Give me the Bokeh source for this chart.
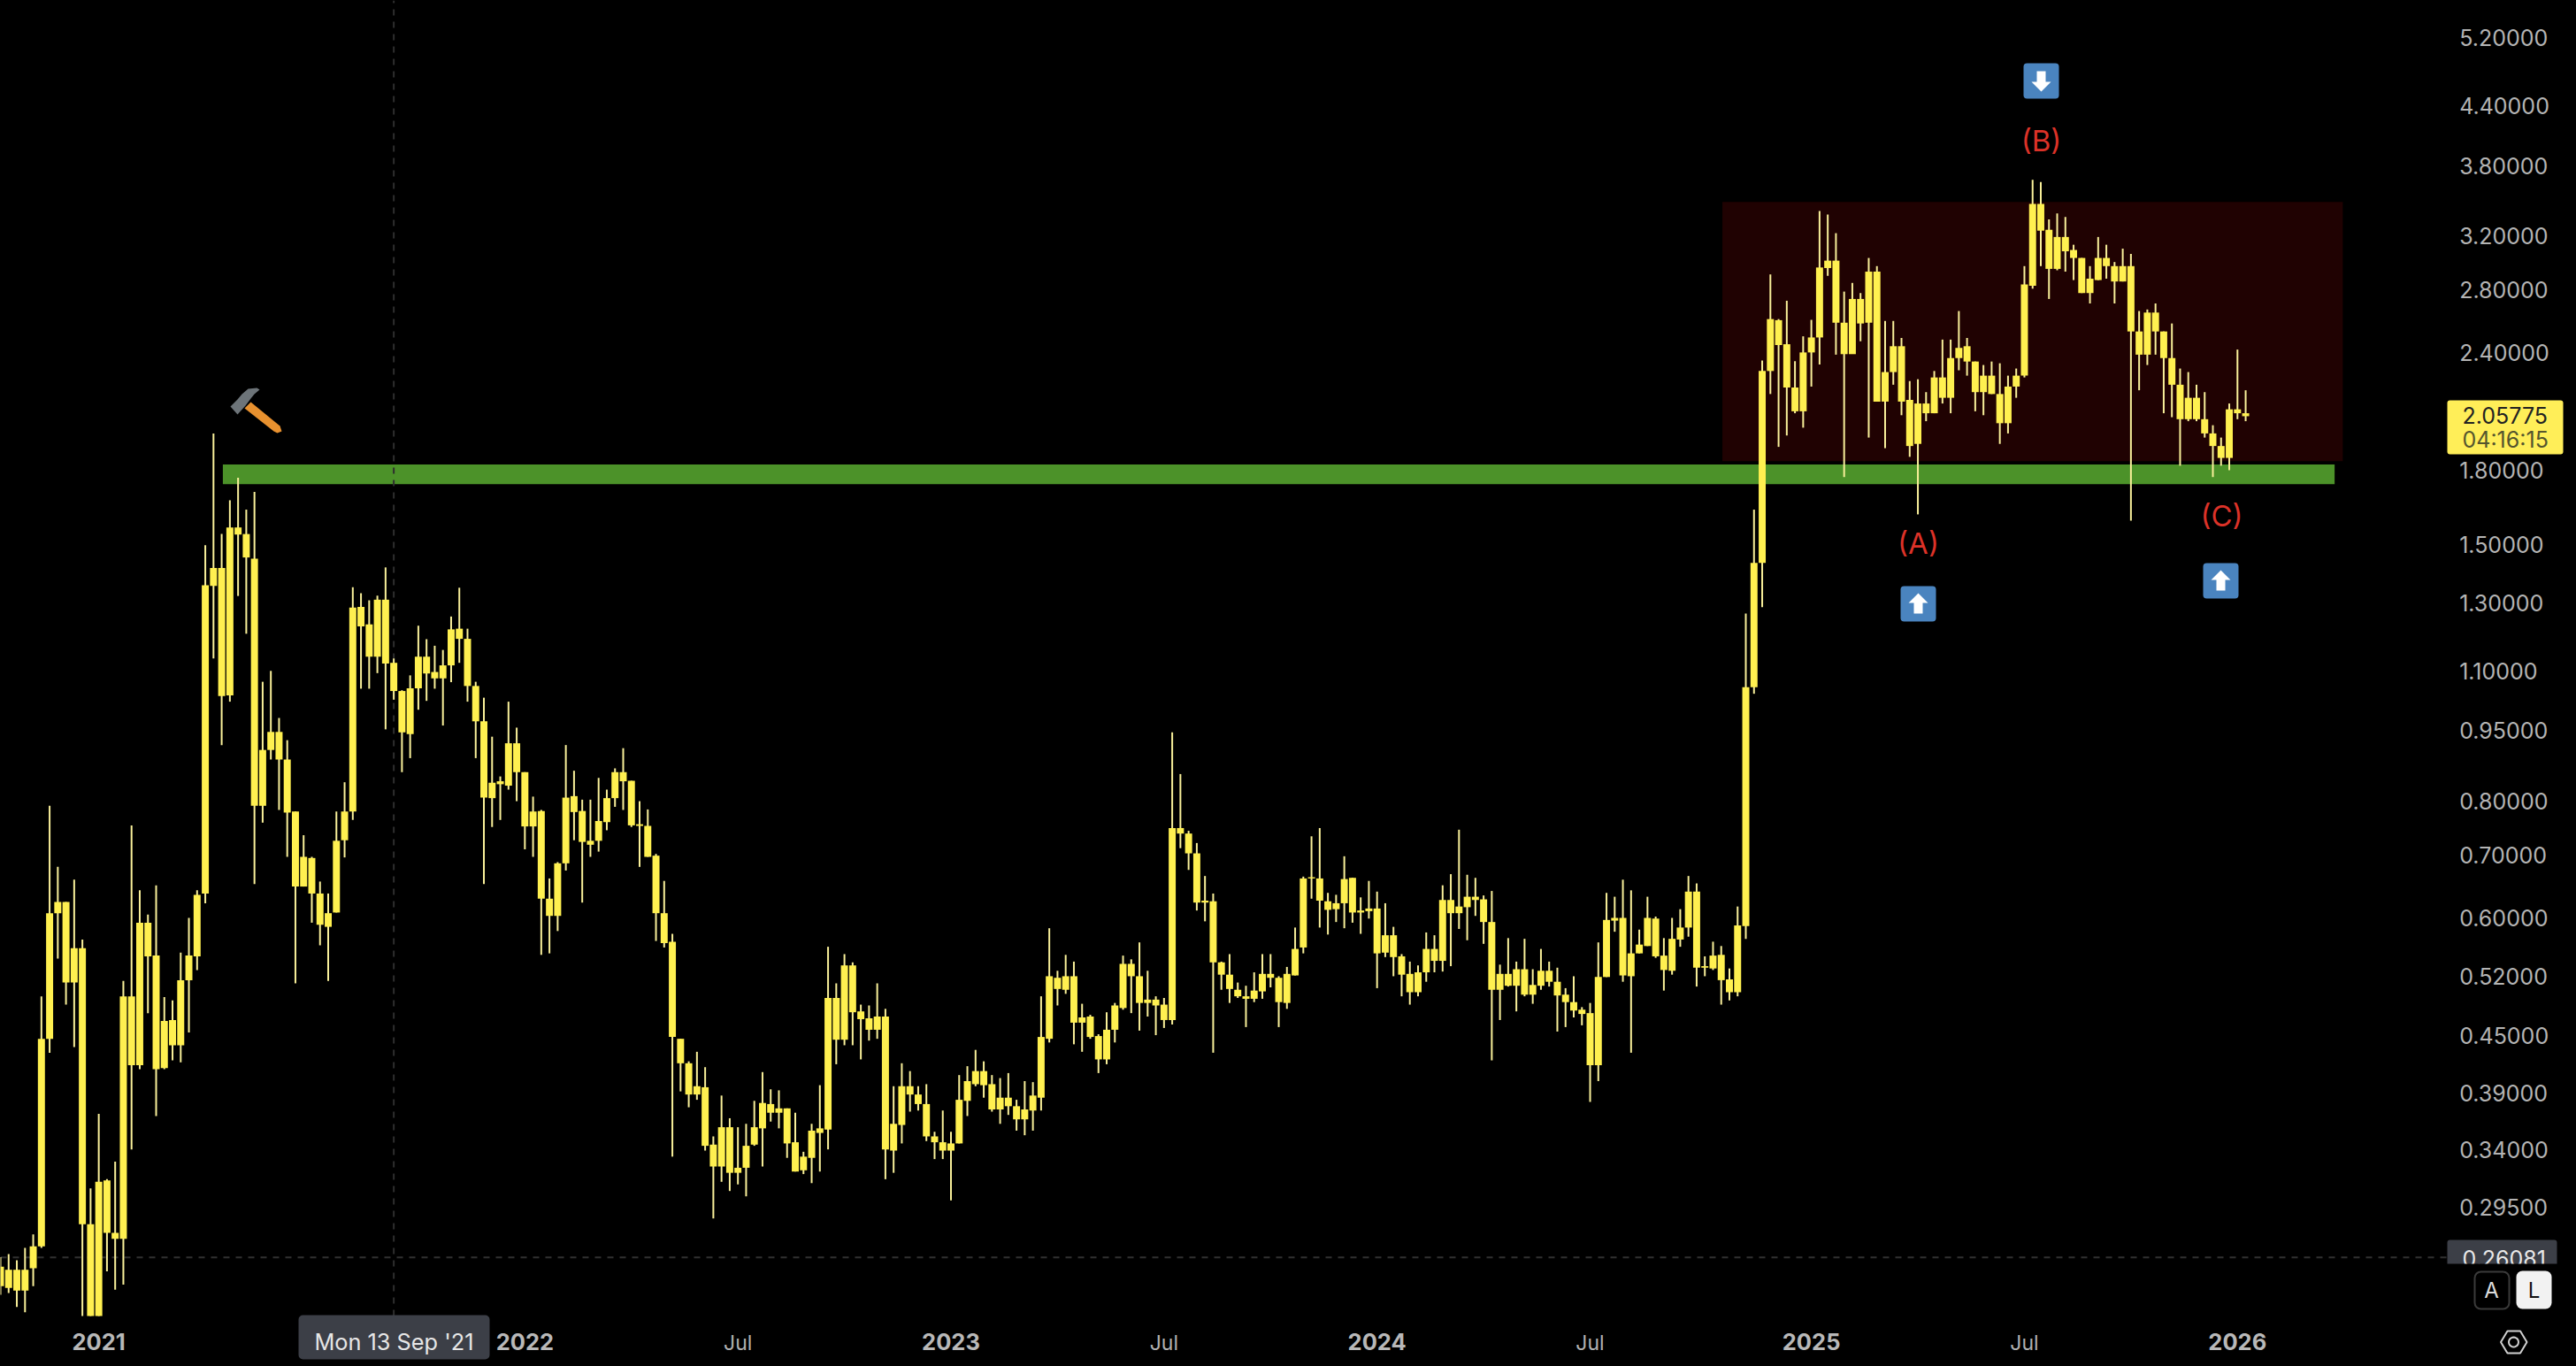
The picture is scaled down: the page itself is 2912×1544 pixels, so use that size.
import pandas as pd
from bokeh.plotting import figure
from bokeh.embed import file_html
from bokeh.resources import INLINE
from bokeh.models import (ColumnDataSource, FixedTicker, LinearAxis, LogAxis, LogScale, Range1d, Label,
                          BoxAnnotation, PolyAnnotation, NumeralTickFormatter, GlobalInlineStyleSheet)
import math

first_week = "2020-10-12"

body_high = [
    .255,.253,.253,.253,.268,.446,.607,.624,.624,.557,
    .557,.283,.314,.315,.277,.495,.495,.593,.593,.547,
    .466,.467,.515,.547,.635,1.357,1.416,1.416,1.564,1.564,
    1.539,1.449,.906,.947,.947,.885,.779,.697,.695,.637,
    .607,.725,.779,1.285,1.287,1.233,1.31,1.31,1.122,1.047,
    1.054,1.139,1.139,1.097,1.115,1.218,1.22,1.19,1.06,.972,
    .836,.839,.921,.921,.858,.779,.78,.629,.686,.806,
    .809,.78,.725,.761,.805,.858,.858,.84,.755,.752,
    .699,.607,.566,.446,.42,.397,.396,.344,.359,.359,
    .325,.343,.359,.381,.38,.376,.376,.346,.334,.356,
    .358,.493,.493,.534,.534,.477,.469,.471,.471,.362,
    .397,.397,.389,.38,.351,.346,.345,.384,.402,.412,
    .412,.399,.386,.386,.378,.375,.388,.448,.52,.518,
    .52,.52,.47,.471,.449,.456,.484,.536,.536,.52,
    .491,.491,.485,.748,.748,.738,.703,.626,.625,.538,
    .522,.503,.495,.502,.523,.523,.518,.523,.556,.661,
    .663,.661,.625,.622,.66,.662,.611,.614,.614,.575,
    .575,.546,.523,.525,.556,.556,.627,.627,.617,.632,
    .632,.628,.594,.523,.523,.529,.529,.509,.527,.527,
    .513,.497,.488,.479,.475,.519,.597,.6,.6,.55,
    .562,.6,.599,.547,.57,.586,.64,.64,.533,.547,
    .548,.516,.589,1.057,1.434,2.296,2.608,2.601,2.452,2.205,
    2.403,2.493,2.96,3.01,3.01,2.585,2.74,2.74,2.93,2.93,
    2.29,2.44,2.44,2.139,2.12,2.12,2.26,2.26,2.37,2.43,
    2.44,2.35,2.27,2.27,2.17,2.21,2.27,2.84,3.46,3.46,
    3.247,3.19,3.19,3.09,3.03,2.88,3.03,3.03,2.97,2.97,
    2.97,2.53,2.65,2.65,2.53,2.37,2.22,2.15,2.15,2.04,
    1.97,1.91,2.09,2.09,2.07,
]
body_low = [
    .243,.242,.2405,.2405,.254,.268,.446,.607,.512,.512,
    .283,.2259,.2259,.277,.273,.273,.418,.418,.546,.414,
    .415,.439,.439,.515,.546,.637,1.355,1.034,1.036,1.537,
    1.453,.79,.79,.906,.885,.777,.648,.648,.637,.59,
    .587,.608,.726,.779,1.227,1.139,1.139,1.12,1.047,.946,
    .942,1.054,1.093,1.08,1.08,1.115,1.19,1.06,.972,.806,
    .805,.833,.83,.858,.751,.751,.629,.603,.603,.686,
    .778,.723,.718,.725,.759,.805,.839,.753,.752,.697,
    .607,.564,.448,.42,.389,.389,.343,.326,.326,.321,
    .321,.325,.344,.358,.372,.372,.345,.322,.323,.333,
    .354,.357,.445,.445,.476,.468,.456,.456,.34,.339,
    .361,.389,.38,.351,.346,.339,.339,.345,.383,.399,
    .398,.375,.375,.378,.366,.366,.374,.386,.446,.504,
    .503,.464,.464,.448,.424,.424,.456,.481,.52,.487,
    .487,.484,.467,.467,.738,.703,.623,.623,.538,.522,
    .504,.495,.492,.492,.501,.518,.488,.487,.521,.558,
    .661,.626,.612,.613,.622,.608,.608,.61,.55,.551,
    .545,.522,.5,.5,.525,.54,.54,.607,.607,.616,
    .627,.594,.503,.503,.508,.508,.497,.497,.508,.513,
    .496,.488,.478,.474,.418,.418,.519,.596,.521,.52,
    .55,.56,.546,.528,.527,.569,.586,.531,.531,.53,
    .515,.5,.5,.588,1.057,1.434,2.296,2.447,2.205,2.08,
    2.08,2.403,2.493,2.956,2.585,2.393,2.393,2.58,2.585,2.13,
    2.13,2.29,2.13,1.91,1.92,2.07,2.07,2.15,2.15,2.37,
    2.35,2.18,2.18,2.17,2.02,2.02,2.21,2.27,2.83,3.24,
    2.95,2.95,3.08,3.03,2.78,2.78,2.87,2.97,2.86,2.86,
    2.53,2.39,2.39,2.53,2.37,2.22,2.04,2.04,2.04,1.97,
    1.91,1.855,1.855,2.07,2.055,
]
wick_high = [
    .261,.263,.259,.267,.276,.495,.79,.68,.624,.659,
    .569,.309,.371,.316,.33,.514,.753,.642,.605,.65,
    .494,.49,.551,.6,.642,1.497,1.97,1.539,1.672,1.767,
    1.634,1.707,1.071,1.1,.98,.928,.779,.735,.697,.656,
    .637,.779,.837,1.351,1.331,1.308,1.323,1.418,1.134,1.049,
    1.088,1.229,1.189,1.17,1.158,1.257,1.349,1.22,1.071,1.03,
    .936,.849,1.02,.957,.858,.808,.782,.661,.688,.917,
    .861,.802,.802,.846,.822,.866,.91,.84,.799,.783,
    .702,.657,.577,.446,.422,.432,.416,.351,.388,.367,
    .359,.362,.383,.411,.394,.393,.376,.372,.338,.362,
    .398,.559,.511,.549,.538,.485,.484,.511,.48,.397,
    .42,.412,.397,.399,.355,.374,.355,.408,.417,.434,
    .422,.408,.405,.41,.384,.402,.401,.495,.585,.527,
    .548,.539,.486,.473,.451,.476,.487,.547,.542,.565,
    .527,.495,.493,.946,.854,.743,.721,.665,.637,.539,
    .549,.512,.508,.525,.549,.549,.52,.532,.586,.664,
    .733,.748,.638,.635,.698,.662,.631,.657,.64,.622,
    .587,.549,.539,.534,.579,.575,.65,.668,.745,.667,
    .662,.634,.641,.535,.571,.539,.57,.529,.556,.539,
    .531,.505,.52,.482,.487,.565,.638,.632,.659,.642,
    .583,.632,.602,.571,.6,.613,.665,.653,.546,.566,
    .56,.53,.617,1.266,1.634,2.356,2.91,2.608,2.728,2.352,
    2.5,2.603,3.4,3.37,3.22,2.79,2.85,2.78,3.03,2.97,
    2.596,2.596,2.49,2.24,2.25,2.18,2.296,2.48,2.48,2.66,
    2.49,2.35,2.33,2.35,2.34,2.27,2.31,2.97,3.67,3.65,
    3.33,3.38,3.35,3.13,3.03,2.97,3.19,3.13,3.0,3.1,
    3.06,2.66,2.67,2.71,2.53,2.58,2.31,2.29,2.22,2.18,
    2.01,1.95,2.12,2.42,2.19,
]
wick_low = [
    .238,.239,.231,.228,.243,.267,.431,.543,.485,.437,
    .2259,.2259,.2259,.252,.241,.244,.34,.414,.475,.369,
    .414,.423,.421,.453,.528,.622,1.134,.917,1.02,1.322,
    1.205,.652,.758,.885,.782,.697,.511,.648,.593,.561,
    .514,.608,.696,.763,1.053,1.053,1.094,.953,1.025,.858,
    .888,1.0,1.022,1.053,.962,1.07,1.122,1.02,.888,.652,
    .75,.763,.822,.799,.71,.697,.548,.55,.581,.674,
    .726,.623,.697,.706,.744,.788,.782,.75,.68,.697,
    .567,.558,.334,.392,.377,.384,.339,.287,.314,.307,
    .312,.303,.343,.326,.364,.358,.333,.322,.32,.313,
    .322,.34,.419,.439,.439,.424,.444,.446,.316,.321,
    .345,.373,.374,.347,.332,.332,.3,.345,.369,.397,
    .386,.373,.362,.37,.356,.352,.356,.374,.442,.484,
    .498,.44,.432,.446,.41,.419,.442,.479,.475,.455,
    .471,.45,.458,.462,.712,.675,.611,.595,.431,.503,
    .487,.493,.459,.488,.492,.506,.459,.48,.521,.55,
    .629,.586,.576,.594,.585,.593,.577,.599,.505,.545,
    .52,.495,.485,.495,.513,.525,.526,.533,.584,.568,
    .603,.563,.423,.467,.507,.477,.495,.486,.503,.507,
    .454,.459,.47,.461,.382,.402,.519,.58,.513,.431,
    .55,.56,.544,.502,.522,.559,.573,.507,.52,.528,
    .485,.49,.495,.57,1.04,1.286,2.17,1.906,1.96,2.07,
    1.998,2.21,2.333,2.9,2.39,1.77,2.48,2.47,1.95,2.13,
    1.9,2.22,2.06,1.86,1.615,2.03,2.07,2.12,2.07,2.3,
    2.27,2.08,2.06,2.17,1.92,1.97,2.15,2.26,2.81,2.97,
    2.74,2.94,2.93,2.87,2.78,2.71,2.87,2.88,2.71,2.86,
    1.59,2.19,2.33,2.39,2.07,2.05,1.82,2.03,2.03,1.95,
    1.77,1.82,1.80,2.04,2.03,
]
assert len(body_high) == len(body_low) == len(wick_high) == len(wick_low)

price_ticks = [5.2, 4.4, 3.8, 3.2, 2.8, 2.4, 1.8, 1.5, 1.3, 1.1, .95, .8, .7, .6, .52, .45, .39, .34, .295]
year_ticks = {"2021-01-04": "2021", "2022-01-03": "2022", "2023-01-02": "2023",
              "2024-01-01": "2024", "2025-01-06": "2025", "2026-01-05": "2026"}
month_ticks = {"2022-07-04": "Jul", "2023-07-03": "Jul", "2024-07-01": "Jul", "2025-07-07": "Jul"}
last_price = 2.05775
cross_price = 0.26081
cross_date = "2021-09-13"
countdown = "04:16:15"
date_tag = "Mon 13 Sep '21"
support_zone = dict(left="2021-04-20", right="2026-03-29", top=1.825, bottom=1.739)
range_zone = dict(left="2024-10-22", right="2026-04-05", top=3.476, bottom=1.84)
pane_bottom_price = 0.2259
pane_right_date = "2026-07-03"


def ms(d):
    return (pd.Timestamp(d) - pd.Timestamp(0)) / pd.Timedelta(milliseconds=1)


dates = pd.date_range(first_week, periods=len(body_high), freq="7D")
xs = [ms(d) for d in dates]
WEEK = 7 * 86400000
PX_PER_WEEK = 9.263
W, H = 2912, 1544

source = ColumnDataSource(dict(x=xs, body_high=body_high, body_low=body_low,
                               wick_high=wick_high, wick_low=wick_low))

FONT = "Inter"
p = figure(width=W, height=H, output_backend="svg", toolbar_location=None,
           x_axis_type=None, y_axis_type=None,
           x_range=Range1d(ms(first_week), ms(first_week) + W / PX_PER_WEEK * WEEK),
           y_range=Range1d(0.1996, 5.70),
           background_fill_color="#000000", border_fill_color="#000000",
           min_border_left=0, min_border_top=0, min_border_right=0, min_border_bottom=0)
p.y_scale = LogScale()
p.stylesheets = [GlobalInlineStyleSheet(css="html,body{background:#000;margin:0!important;overflow:hidden;}")]
p.outline_line_color = None


def style_time_axis(ax, ticks, bold):
    ax.ticker = FixedTicker(ticks=[ms(k) for k in ticks])
    ax.major_label_overrides = {ms(k): v for k, v in ticks.items()}
    ax.axis_line_color = None
    ax.major_tick_line_color = None
    ax.minor_tick_line_color = None
    ax.major_label_text_color = "#b8b8b8" if bold else "#b0b0b0"
    ax.major_label_text_font = FONT
    ax.major_label_text_font_style = "bold" if bold else "normal"
    ax.major_label_text_font_size = "25.5px" if bold else "23px"
    ax.major_label_standoff = 14 if bold else 11


year_axis = LinearAxis(fixed_location=pane_bottom_price)
style_time_axis(year_axis, year_ticks, True)
p.add_layout(year_axis, "below")
month_axis = LinearAxis(fixed_location=pane_bottom_price)
style_time_axis(month_axis, month_ticks, False)
p.add_layout(month_axis, "below")

ya = LogAxis(fixed_location=ms(pane_right_date))
ya.ticker = FixedTicker(ticks=price_ticks)
ya.formatter = NumeralTickFormatter(format="0.00000")
ya.axis_line_color = None
ya.major_tick_line_color = None
ya.minor_tick_line_color = None
ya.major_label_text_color = "#b4b4b4"
ya.major_label_text_font = FONT
ya.major_label_text_font_size = "25px"
ya.major_label_standoff = 8
p.add_layout(ya, "right")


def zone(z, color):
    p.quad(left=[ms(z["left"])], right=[ms(z["right"])], top=[z["top"]], bottom=[z["bottom"]],
           fill_color=color, line_color=None)


zone(range_zone, "#200202")
zone(support_zone, "#4c9229")

p.segment(x0=[ms(cross_date)], x1=[ms(cross_date)], y0=[pane_bottom_price], y1=[5.7],
          line_color="#2e2e2e", line_width=2, line_dash="7 7")
p.segment(x0=[ms(first_week)], x1=[ms(pane_right_date)], y0=[cross_price], y1=[cross_price],
          line_color="#303030", line_width=2, line_dash="7 7")

p.segment(x0="x", x1="x", y0="wick_low", y1="wick_high", source=source, line_color="#f9f09a", line_width=2)
p.vbar(x="x", width=WEEK * 0.86, top="body_high", bottom="body_low", source=source,
       fill_color="#fff050", line_color=None)


def box(l, r, t, b, fill, line=None, radius=0):
    p.add_layout(BoxAnnotation(left=l, right=r, top=t, bottom=b,
                               left_units="canvas", right_units="canvas", top_units="canvas", bottom_units="canvas",
                               fill_color=fill, fill_alpha=1, line_color=line, line_alpha=1 if line else 0,
                               line_width=2, border_radius=radius))


def poly(pts, fill, line=None, width=2):
    p.add_layout(PolyAnnotation(xs=[a for a, _ in pts], ys=[b for _, b in pts],
                                xs_units="canvas", ys_units="canvas",
                                fill_color=fill, fill_alpha=1 if fill else 0,
                                line_color=line, line_alpha=1 if line else 0, line_width=width))


def text(x, y, s, color, size, align="center", style="normal"):
    p.add_layout(Label(x=x, y=y, x_units="canvas", y_units="canvas", text=s, text_color=color,
                       text_font=FONT, text_font_size=size, text_align=align, text_baseline="middle",
                       text_font_style=style))


# hammer
poly([(276, 461), (283, 454), (316, 481), (318, 487), (313, 489), (309, 487)], "#e8912f")
poly([(260, 459), (268, 468), (277, 458), (283, 450), (287, 445), (293, 440), (290, 438), (280, 439), (273, 445), (268, 451)], "#6d7479")

# wave labels and arrows
for lx, ly, s in [(2168, 613, "(A)"), (2307, 158, "(B)"), (2511, 582, "(C)")]:
    text(lx, ly, s, "#dc3228", "33px")


def badge(cx, cy, up):
    box(cx - 20, cx + 20, cy - 20, cy + 20, "#4a84bf", radius=4)
    d = -1 if up else 1
    poly([(cx, cy + d * 12), (cx - 11, cy + d * 1), (cx - 5, cy + d * 1), (cx - 5, cy - d * 11),
          (cx + 5, cy - d * 11), (cx + 5, cy + d * 1), (cx + 11, cy + d * 1)], "#ffffff")


badge(2307, 91, False)
badge(2168, 682, True)
badge(2510, 656, True)

# last price tag
box(2766, 2897, 452, 513, "#ffee58", radius=3)
text(2783, 469, f"{last_price:.5f}", "#222222", "25px", "left")
text(2783, 496, countdown, "#55552e", "25px", "left")

# crosshair tags
box(2766, 2890, 1401, 1440, "#3c3f47", radius=3)
text(2783, 1422, f"{cross_price:.5f}", "#e8e8e8", "25px", "left")
box(2760, 2904, 1428, 1486, "#000000")
box(337, 553, 1486, 1536, "#3c3f47", radius=5)
text(445, 1515.5, date_tag, "#e6e6e6", "25.3px")

# scale buttons and settings
box(2797, 2836, 1437, 1479, "#000000", line="#3a3a3a", radius=7)
text(2816, 1458, "A", "#dddddd", "24px")
box(2844, 2884, 1436, 1479, "#f2f2f2", radius=7)
text(2864, 1458, "L", "#111111", "24px")
poly([(2826.5, 1516.5), (2834, 1504), (2848.5, 1504), (2856, 1516.5), (2848.5, 1529), (2834, 1529)], None, "#d0d0d0", 2)
poly([(2841 + 5.5 * math.cos(i * math.pi / 10), 1516.5 + 5.5 * math.sin(i * math.pi / 10)) for i in range(20)],
     None, "#d0d0d0", 2)

open("out.html", "w").write(file_html(p, INLINE))
